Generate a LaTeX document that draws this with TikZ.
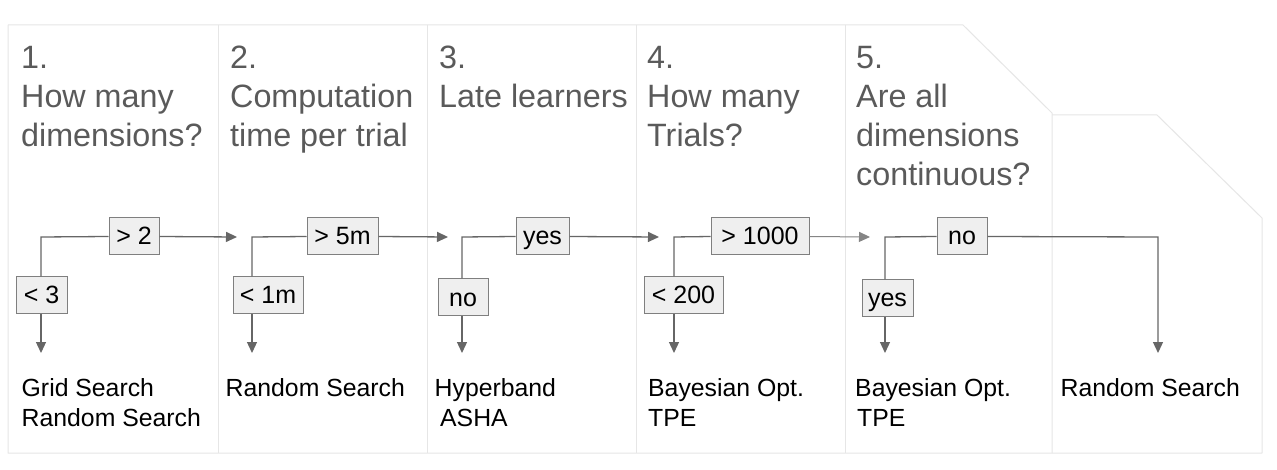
\documentclass[tikz,border=0pt]{standalone}
\usepackage{fontspec}
\setmainfont{Liberation Sans}
\usetikzlibrary{arrows.meta}
\definecolor{ttlc}{HTML}{5A5A5A}
\definecolor{panelc}{HTML}{E6E6E6}
\definecolor{linec}{HTML}{666666}
\definecolor{boxc}{HTML}{7F7F7F}
\definecolor{boxf}{HTML}{EFEFEF}
\begin{document}
\begin{tikzpicture}[x=1pt,y=-1pt,
  panel/.style={draw=panelc, line width=1pt, line join=round},
  flow/.style={draw=linec, line width=1.3pt},
  arr/.style={flow, -{Triangle[length=11pt,width=10pt]}},
  thinarr/.style={draw=linec!80, line width=1pt, -{Triangle[length=11pt,width=10pt]}},
  lbl/.style={draw=boxc, fill=boxf, line width=1pt, minimum height=37pt, inner sep=0pt, text height=18pt, text depth=1pt, font=\fontsize{25}{30}\selectfont, text=black},
  ttl/.style={anchor=base west, inner sep=0pt, text=ttlc, font=\fontsize{32.3}{38}\selectfont},
  res/.style={anchor=base west, inner sep=0pt, text=black, font=\fontsize{24.8}{30}\selectfont}]
\useasboundingbox (0,0) rectangle (1277,470);
\fill[white] (0,0) rectangle (1277,470);

% panels
\draw[panel] (8,25) -- (963,25) -- (1052,113) -- (1052,453);
\draw[panel] (1052,115) -- (1157,115) -- (1262,218) -- (1262,453) -- (8,453) -- (8,25);
\foreach \xx in {218,427,636,845} \draw[panel] (\xx,25) -- (\xx,453);

% titles
\node[ttl] (t1a) at (21,69) {1.};
\node[ttl] (t1b) at (21,108) {How many};
\node[ttl] (t1c) at (21,147) {dimensions?};
\node[ttl] (t2a) at (230,69) {2.};
\node[ttl] (t2b) at (230,108) {Computation};
\node[ttl] (t2c) at (230,147) {time per trial};
\node[ttl] (t3a) at (439,69) {3.};
\node[ttl] (t3b) at (439,108) {Late learners};
\node[ttl] (t4a) at (647,69) {4.};
\node[ttl] (t4b) at (647,108) {How many};
\node[ttl] (t4c) at (647,147) {Trials?};
\node[ttl] (t5a) at (856,69) {5.};
\node[ttl] (t5b) at (856,108) {Are all};
\node[ttl] (t5c) at (856,147) {dimensions};
\node[ttl] (t5d) at (856,185.5) {continuous?};

% coordinates
\coordinate (b1) at (41,237);  \coordinate (r1) at (237,237); \coordinate (d1) at (41,353);
\coordinate (b2) at (252,237); \coordinate (r2) at (448,237); \coordinate (d2) at (252,353);
\coordinate (b3) at (462,237); \coordinate (r3) at (659,237); \coordinate (d3) at (462,353);
\coordinate (b4) at (674,237); \coordinate (r4) at (870,237); \coordinate (d4) at (674,353);
\coordinate (b5) at (885,237); \coordinate (c5) at (1158,237); \coordinate (d5) at (885,353);
\coordinate (d6) at (1158,353);

% label boxes
\node[lbl, minimum width=50pt] (gt2) at (134,236.5) {> 2};
\node[lbl, minimum width=51pt] (lt3) at (41.5,295.5) {< 3};
\node[lbl, minimum width=71pt] (gt5m) at (342.5,236.5) {> 5m};
\node[lbl, minimum width=70pt] (lt1m) at (268,295.5) {< 1m};
\node[lbl, minimum width=53pt] (yes3) at (542.5,236.5) {yes};
\node[lbl, minimum width=50pt] (no3) at (463,297.5) {no};
\node[lbl, minimum width=98pt] (gt1000) at (760,236.5) {> 1000};
\node[lbl, minimum width=79pt] (lt200) at (683.5,295.5) {< 200};
\node[lbl, minimum width=50pt] (no5) at (962,236.5) {no};
\node[lbl, minimum width=51pt] (yes5) at (887.5,298.5) {yes};

% connectors
\draw[flow] (b1 |- lt3.north) -- (b1) -- (gt2.west);
\draw[arr] (gt2.east) -- (r1);
\draw[arr] (b1 |- lt3.south) -- (d1);

\draw[flow] (b2 |- lt1m.north) -- (b2) -- (gt5m.west);
\draw[arr] (gt5m.east) -- (r2);
\draw[arr] (b2 |- lt1m.south) -- (d2);

\draw[flow] (b3 |- no3.north) -- (b3) -- (yes3.west);
\draw[arr] (yes3.east) -- (r3);
\draw[arr] (b3 |- no3.south) -- (d3);

\draw[flow] (b4 |- lt200.north) -- (b4) -- (gt1000.west);
\draw[thinarr] (gt1000.east) -- (r4);
\draw[arr] (b4 |- lt200.south) -- (d4);

\draw[flow] (b5 |- yes5.north) -- (b5) -- (no5.west);
\draw[arr] (no5.east) -- (c5) -- (d6);
\draw[arr] (b5 |- yes5.south) -- (d5);

% results
\node[res] (r1a) at (21.5,396) {Grid Search};
\node[res] (r1b) at (21.5,426) {Random Search};
\node[res] (r2a) at (225.5,396) {Random Search};
\node[res] (r3a) at (434.5,396) {Hyperband};
\node[res] (r3b) at (440,426) {ASHA};
\node[res] (r4a) at (648,396) {Bayesian Opt.};
\node[res] (r4b) at (648,426) {TPE};
\node[res] (r5a) at (855,396) {Bayesian Opt.};
\node[res] (r5b) at (857,426) {TPE};
\node[res] (r6a) at (1060.5,396) {Random Search};
\end{tikzpicture}
\end{document}
